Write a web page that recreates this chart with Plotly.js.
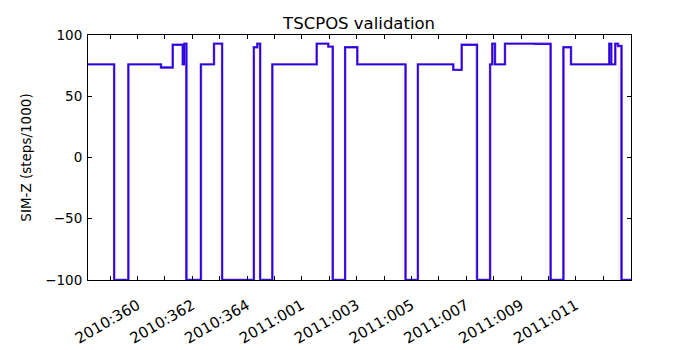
<!DOCTYPE html>
<html>
<head>
<meta charset="utf-8">
<script src="https://cdn.plot.ly/plotly-3.0.1.min.js"></script>
<style>html,body{margin:0;padding:0;background:#fff;}#chart{width:700px;height:350px;}</style>
</head>
<body>
<div id="chart"></div>
<script>
// Times as year:day-of-year (fractional), value starting at each time (step plot)
const telemTimes = ["2010:358.197","2010:359.157","2010:359.668","2010:360.861","2010:361.288","2010:361.653","2010:361.711","2010:361.799","2010:362.310","2010:362.795","2010:363.098","2010:364.244","2010:364.375","2010:364.484","2010:364.922","2011:001.542","2011:001.966","2011:002.137","2011:002.575","2011:003.024","2011:004.790","2011:005.228","2011:006.527","2011:006.833","2011:007.402","2011:007.866","2011:007.950","2011:008.048","2011:008.413","2011:009.508","2011:010.081","2011:010.541","2011:010.822","2011:012.219","2011:012.292","2011:012.438","2011:012.537","2011:012.672","2011:013.011"];
const telemValues = [76,-100,76,73.5,92,76,93,-100,76,93,-100,90,93,-100,76,93,90.5,-100,90,76,-100,76,71.5,92,-100,76,93,76,93,92.5,-100,90,76,93,76,93,91,-100,-100];

const modelTimes = ["2010:358.197","2010:359.150","2010:359.672","2010:360.861","2010:361.288","2010:361.653","2010:361.711","2010:361.780","2010:362.318","2010:362.795","2010:363.090","2010:364.250","2010:364.375","2010:364.478","2010:364.925","2011:001.542","2011:001.966","2011:002.125","2011:002.580","2011:003.024","2011:004.780","2011:005.235","2011:006.527","2011:006.833","2011:007.390","2011:007.870","2011:007.950","2011:008.048","2011:008.413","2011:009.508","2011:010.075","2011:010.548","2011:010.822","2011:012.219","2011:012.292","2011:012.438","2011:012.537","2011:012.660","2011:013.011"];
const modelValues = [76,-100,76,73.5,92,76,93,-100,76,93,-100,90,93,-100,76,93,90.5,-100,90,76,-100,76,71.5,92,-100,76,93,76,93,93,-100,90,76,93,76,93,91,-100,-100];

const tickDoy = ["2010:359","2010:360","2010:361","2010:362","2010:363","2010:364","2010:365","2011:001","2011:002","2011:003","2011:004","2011:005","2011:006","2011:007","2011:008","2011:009","2011:010","2011:011","2011:012","2011:013"];
const tickLabels = ["","2010:360","","2010:362","","2010:364","","2011:001","","2011:003","","2011:005","","2011:007","","2011:009","","2011:011","",""];

const yTicks = [-100,-50,0,50,100];

function doyToDate(s){
  const parts = s.split(':');
  const y = parseInt(parts[0],10);
  const f = parseFloat(parts[1]);
  const ms = Date.UTC(y,0,1) + (f-1)*86400000;
  return new Date(ms).toISOString().replace('T',' ').replace('Z','');
}

const font = "DejaVu Sans, sans-serif";

const traces = [
  {x: modelTimes.map(doyToDate), y: modelValues, mode:'lines', line:{shape:'hv', color:'rgb(140,50,180)', width:2.4}, hoverinfo:'skip', showlegend:false},
  {x: telemTimes.map(doyToDate), y: telemValues, mode:'lines', line:{shape:'hv', color:'rgba(0,0,255,0.85)', width:1.4}, hoverinfo:'skip', showlegend:false}
];

const layout = {
  width:700, height:350,
  margin:{l:88, r:69, t:35, b:70},
  paper_bgcolor:'#fff', plot_bgcolor:'#fff',
  font:{family:font, color:'#000', size:13},
  title:{text:'TSCPOS validation', x:0.513, xanchor:'center', y:0.935, yanchor:'middle', font:{family:font, size:16.5, color:'#000'}},
  xaxis:{
    type:'date',
    range:[doyToDate(telemTimes[0]), doyToDate(telemTimes[telemTimes.length-1])],
    tickmode:'array', tickvals: tickDoy.map(doyToDate), ticktext: tickLabels,
    tickangle:-30, ticks:'inside', ticklen:4, tickwidth:1, tickcolor:'#000',
    showline:true, linecolor:'#000', linewidth:1, mirror:'ticks',
    showgrid:false, zeroline:false, tickfont:{family:font, size:15, color:'#000'},
    ticklabelstandoff:10
  },
  yaxis:{
    range:[-100,100], tickmode:'array', tickvals:yTicks, ticktext:yTicks.map(v => v<0 ? '\u2212'+Math.abs(v) : String(v)),
    ticks:'inside', ticklen:4, tickwidth:1, tickcolor:'#000',
    showline:true, linecolor:'#000', linewidth:1, mirror:'ticks',
    showgrid:false, zeroline:false, tickfont:{family:font, size:13.5, color:'#000'},
    ticklabelstandoff:2,
    title:{text:'SIM-Z (steps/1000)', standoff:10, font:{family:font, size:13.5, color:'#000'}}
  }
};

Plotly.newPlot('chart', traces, layout, {staticPlot:true, displayModeBar:false});
</script>
</body>
</html>
